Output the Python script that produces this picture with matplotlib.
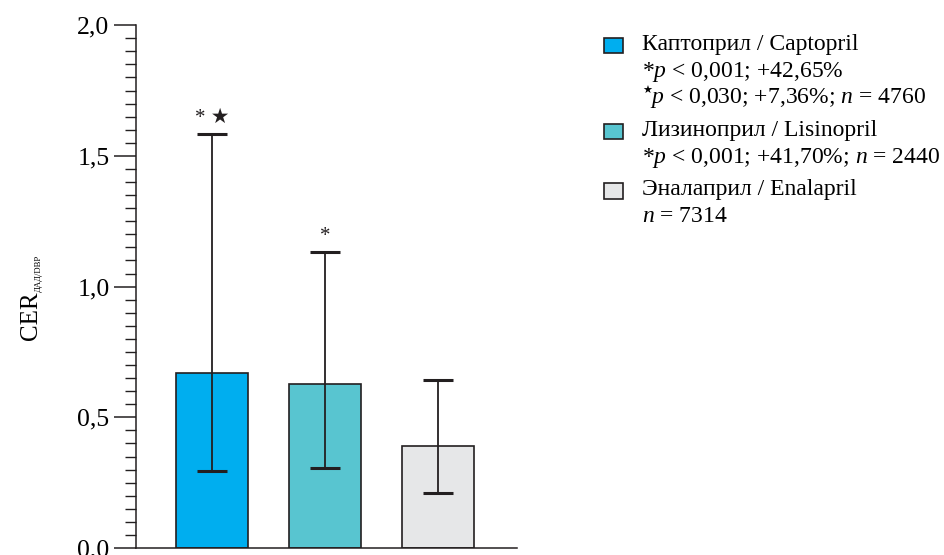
import numpy as np
import matplotlib
matplotlib.use('Agg')
import matplotlib.pyplot as plt
from matplotlib.patches import Rectangle
from matplotlib.ticker import MultipleLocator, FuncFormatter

plt.rcParams['font.family'] = ['Liberation Serif', 'DejaVu Sans']
plt.rcParams['mathtext.fontset'] = 'custom'
plt.rcParams['mathtext.rm'] = 'Liberation Serif'
plt.rcParams['mathtext.it'] = 'Liberation Serif:italic'

# data
drugs = ['Каптоприл / Captopril', 'Лизиноприл / Lisinopril', 'Эналаприл / Enalapril']
means = [0.67, 0.627, 0.39]
err_hi = [1.583, 1.132, 0.642]
err_lo = [0.294, 0.306, 0.21]
marks = ['* ★', '*', '']
colors = ['#00AEEF', '#58C5D0', '#E6E7E8']
legend_notes = [
    [r'*$p$ < 0,001; +42,65%', r'$p$ < 0,030; +7,36%; $n$ = 4760'],
    [r'*$p$ < 0,001; +41,70%; $n$ = 2440'],
    [r'$n$ = 7314'],
]
edge = '#231F20'
fs = 17

fig = plt.figure(figsize=(9.44, 5.55), dpi=100)
ax = fig.add_axes([0.144, 0.0126, 0.404, 0.942])

x = np.arange(len(drugs))
ax.bar(x, means, width=0.64, color=colors, edgecolor=edge, linewidth=1.2, zorder=2)
yerr = [np.array(means) - np.array(err_lo), np.array(err_hi) - np.array(means)]
ax.errorbar(x, means, yerr=yerr, fmt='none', ecolor=edge, elinewidth=1.3,
            capsize=11, capthick=2.2, zorder=3)
for xi, top, m in zip(x, err_hi, marks):
    if m:
        ax.text(xi, top + 0.025, m, ha='center', va='bottom', fontsize=15, color=edge)

ax.set_xlim(-0.67, 2.70)
ax.set_ylim(0, 2.0)
ax.yaxis.set_major_locator(MultipleLocator(0.5))
ax.yaxis.set_minor_locator(MultipleLocator(0.05))
ax.yaxis.set_major_formatter(FuncFormatter(lambda v, p: f'{v:.1f}'.replace('.', ',')))
ax.tick_params(axis='y', which='major', length=16, width=1.1, color=edge, labelsize=18.5, pad=3)
ax.tick_params(axis='y', which='minor', length=8, width=1.0, color=edge)
ax.set_xticks([])
for s in ['top', 'right']:
    ax.spines[s].set_visible(False)
for s in ['left', 'bottom']:
    ax.spines[s].set_linewidth(1.1)
    ax.spines[s].set_color(edge)

# y label: CER with small subscript
fig.text(31 / 944, 1 - 316 / 555, 'CER', fontsize=18, rotation=90, ha='center', va='center')
fig.text(39 / 944, 1 - 273 / 555, 'ДАД/DBP', fontsize=6.2, rotation=90, ha='center', va='center')

# legend drawn by hand
sq_x, txt_x = 604 / 944, 642 / 944
y_px = 50
for i, (name, notes) in enumerate(zip(drugs, legend_notes)):
    fig.add_artist(Rectangle((sq_x, 1 - (y_px + 3) / 555), 19 / 944, 15 / 555,
                             transform=fig.transFigure, facecolor=colors[i],
                             edgecolor=edge, linewidth=1.2))
    fig.text(txt_x, 1 - y_px / 555, name, fontsize=fs, va='baseline', ha='left')
    y_px += 26.5
    for j, note in enumerate(notes):
        if i == 0 and j == 1:
            fig.text(txt_x, 1 - (y_px - 9) / 555, '★', fontsize=8, va='baseline', ha='left')
            fig.text(txt_x + 8 / 944, 1 - y_px / 555, note, fontsize=fs, va='baseline', ha='left')
        else:
            fig.text(txt_x, 1 - y_px / 555, note, fontsize=fs, va='baseline', ha='left')
        y_px += 26.5
    y_px += 6.5

fig.savefig('out.png', dpi=100)
